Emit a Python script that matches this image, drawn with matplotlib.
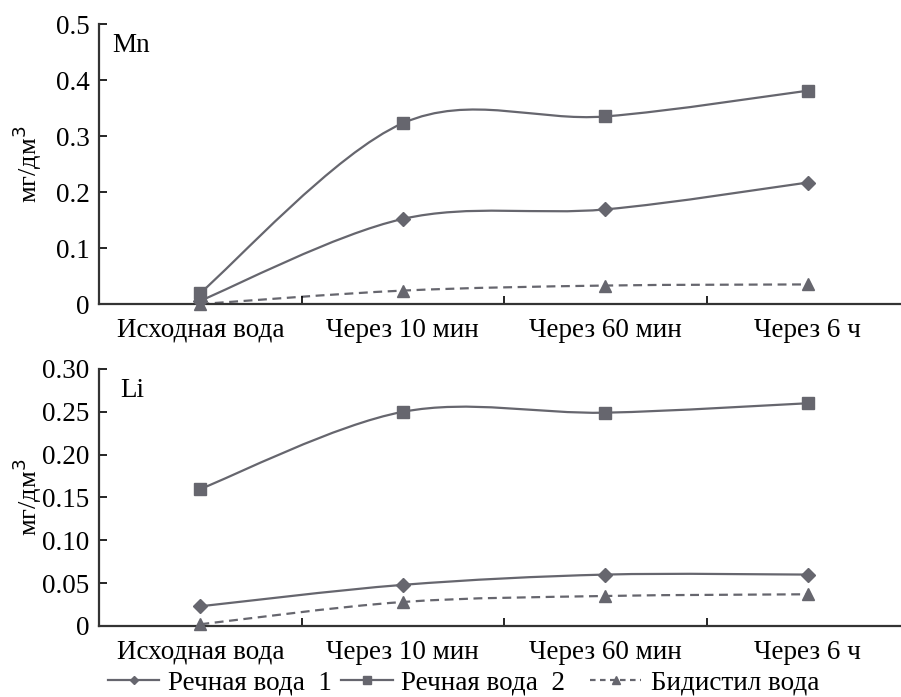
import numpy as np
import matplotlib.pyplot as plt
from matplotlib.path import Path
from matplotlib.patches import PathPatch
from matplotlib.lines import Line2D

plt.rcParams['font.family'] = ['Liberation Serif', 'DejaVu Serif']

# данные
categories = ['Исходная вода', 'Через 10 мин', 'Через 60 мин', 'Через 6 ч']
series_names = ['Речная вода  1', 'Речная вода  2', 'Бидистил вода']

mn_river1 = [0.006, 0.152, 0.169, 0.217]
mn_river2 = [0.020, 0.323, 0.335, 0.381]
mn_bidist = [0.000, 0.024, 0.033, 0.035]

li_river1 = [0.023, 0.048, 0.060, 0.060]
li_river2 = [0.160, 0.250, 0.249, 0.260]
li_bidist = [0.002, 0.028, 0.035, 0.037]

mn_ticks = [0, 0.1, 0.2, 0.3, 0.4, 0.5]
mn_ticklabels = ['0', '0.1', '0.2', '0.3', '0.4', '0.5']
li_ticks = [0, 0.05, 0.10, 0.15, 0.20, 0.25, 0.30]
li_ticklabels = ['0', '0.05', '0.10', '0.15', '0.20', '0.25', '0.30']

col = '#66666e'
styles = [
    dict(marker='D', ms=7, ls='-'),
    dict(marker='s', ms=9, ls='-'),
    dict(marker='^', ms=9, ls=(0, (4, 2.5))),
]
fs = 19.5


def smooth_path(x, y):
    # сглаженная линия как в Excel (кривые Безье через точки)
    p = np.column_stack([x, y]).astype(float)
    verts = [p[0]]
    codes = [Path.MOVETO]
    n = len(p)
    for i in range(n - 1):
        p0 = p[i - 1] if i > 0 else p[i]
        p3 = p[i + 2] if i + 2 < n else p[i + 1]
        c1 = p[i] + (p[i + 1] - p0) / 6.0
        c2 = p[i + 1] - (p3 - p[i]) / 6.0
        verts += [c1, c2, p[i + 1]]
        codes += [Path.CURVE4] * 3
    return Path(verts, codes)


def draw_panel(ax, data, ticks, ticklabels, ymax, label, lx, ly):
    x = np.arange(len(categories))
    for vals, st in zip(data, styles):
        patch = PathPatch(smooth_path(x, vals), fill=False, edgecolor=col,
                          lw=1.6, linestyle=st['ls'])
        ax.add_patch(patch)
        ax.plot(x, vals, ls='none', marker=st['marker'], ms=st['ms'],
                color=col, zorder=3, clip_on=False)
    ax.set_xlim(-0.5, 3.5)
    ax.set_ylim(0, ymax)
    ax.set_xticks(x)
    ax.set_xticklabels(categories, fontsize=fs)
    ax.set_xticks([0.5, 1.5, 2.5], minor=True)
    ax.tick_params(axis='x', which='major', length=0, pad=10)
    ax.tick_params(axis='x', which='minor', direction='in', length=6, width=1.2)
    ax.set_yticks(ticks)
    ax.set_yticklabels(ticklabels, fontsize=fs)
    ax.tick_params(axis='y', direction='in', length=6, width=1.2, pad=7)
    for s in ['top', 'right']:
        ax.spines[s].set_visible(False)
    for s in ['left', 'bottom']:
        ax.spines[s].set_linewidth(1.6)
        ax.spines[s].set_color('#333333')
    ax.set_ylabel('мг/дм$^3$', fontsize=19)
    ax.yaxis.set_label_coords(-0.068, 0.5)
    ax.text(lx, ly, label, transform=ax.transAxes, fontsize=fs,
            va='center', ha='left')


fig = plt.figure(figsize=(9.01, 6.97), dpi=100)
ax1 = fig.add_axes([0.110, 0.5638, 0.899, 0.4017])
ax2 = fig.add_axes([0.110, 0.1019, 0.899, 0.3687])

draw_panel(ax1, [mn_river1, mn_river2, mn_bidist], mn_ticks, mn_ticklabels, 0.5, 'Mn', 0.016, 0.925)
draw_panel(ax2, [li_river1, li_river2, li_bidist], li_ticks, li_ticklabels, 0.30, 'Li', 0.026, 0.918)

handles = [Line2D([], [], color=col, lw=1.6,
                  ls=(0, (2.5, 2)) if i == 2 else '-',
                  marker=st['marker'], ms=st['ms'] * 0.6)
           for i, st in enumerate(styles)]
leg_y = 1 - 683 / 697
leg1 = fig.legend(handles[:2], series_names[:2], loc='center left',
                  bbox_to_anchor=(108 / 901, leg_y),
                  ncol=2, frameon=False, fontsize=fs, handlelength=1.9,
                  handletextpad=0.3, columnspacing=0.37, borderpad=0,
                  borderaxespad=0)
fig.legend(handles[2:], series_names[2:], loc='center left',
           bbox_to_anchor=(590 / 901, leg_y),
           frameon=False, fontsize=fs, handlelength=1.9,
           handletextpad=0.35, borderpad=0, borderaxespad=0)

fig.savefig('out.png', dpi=100)
